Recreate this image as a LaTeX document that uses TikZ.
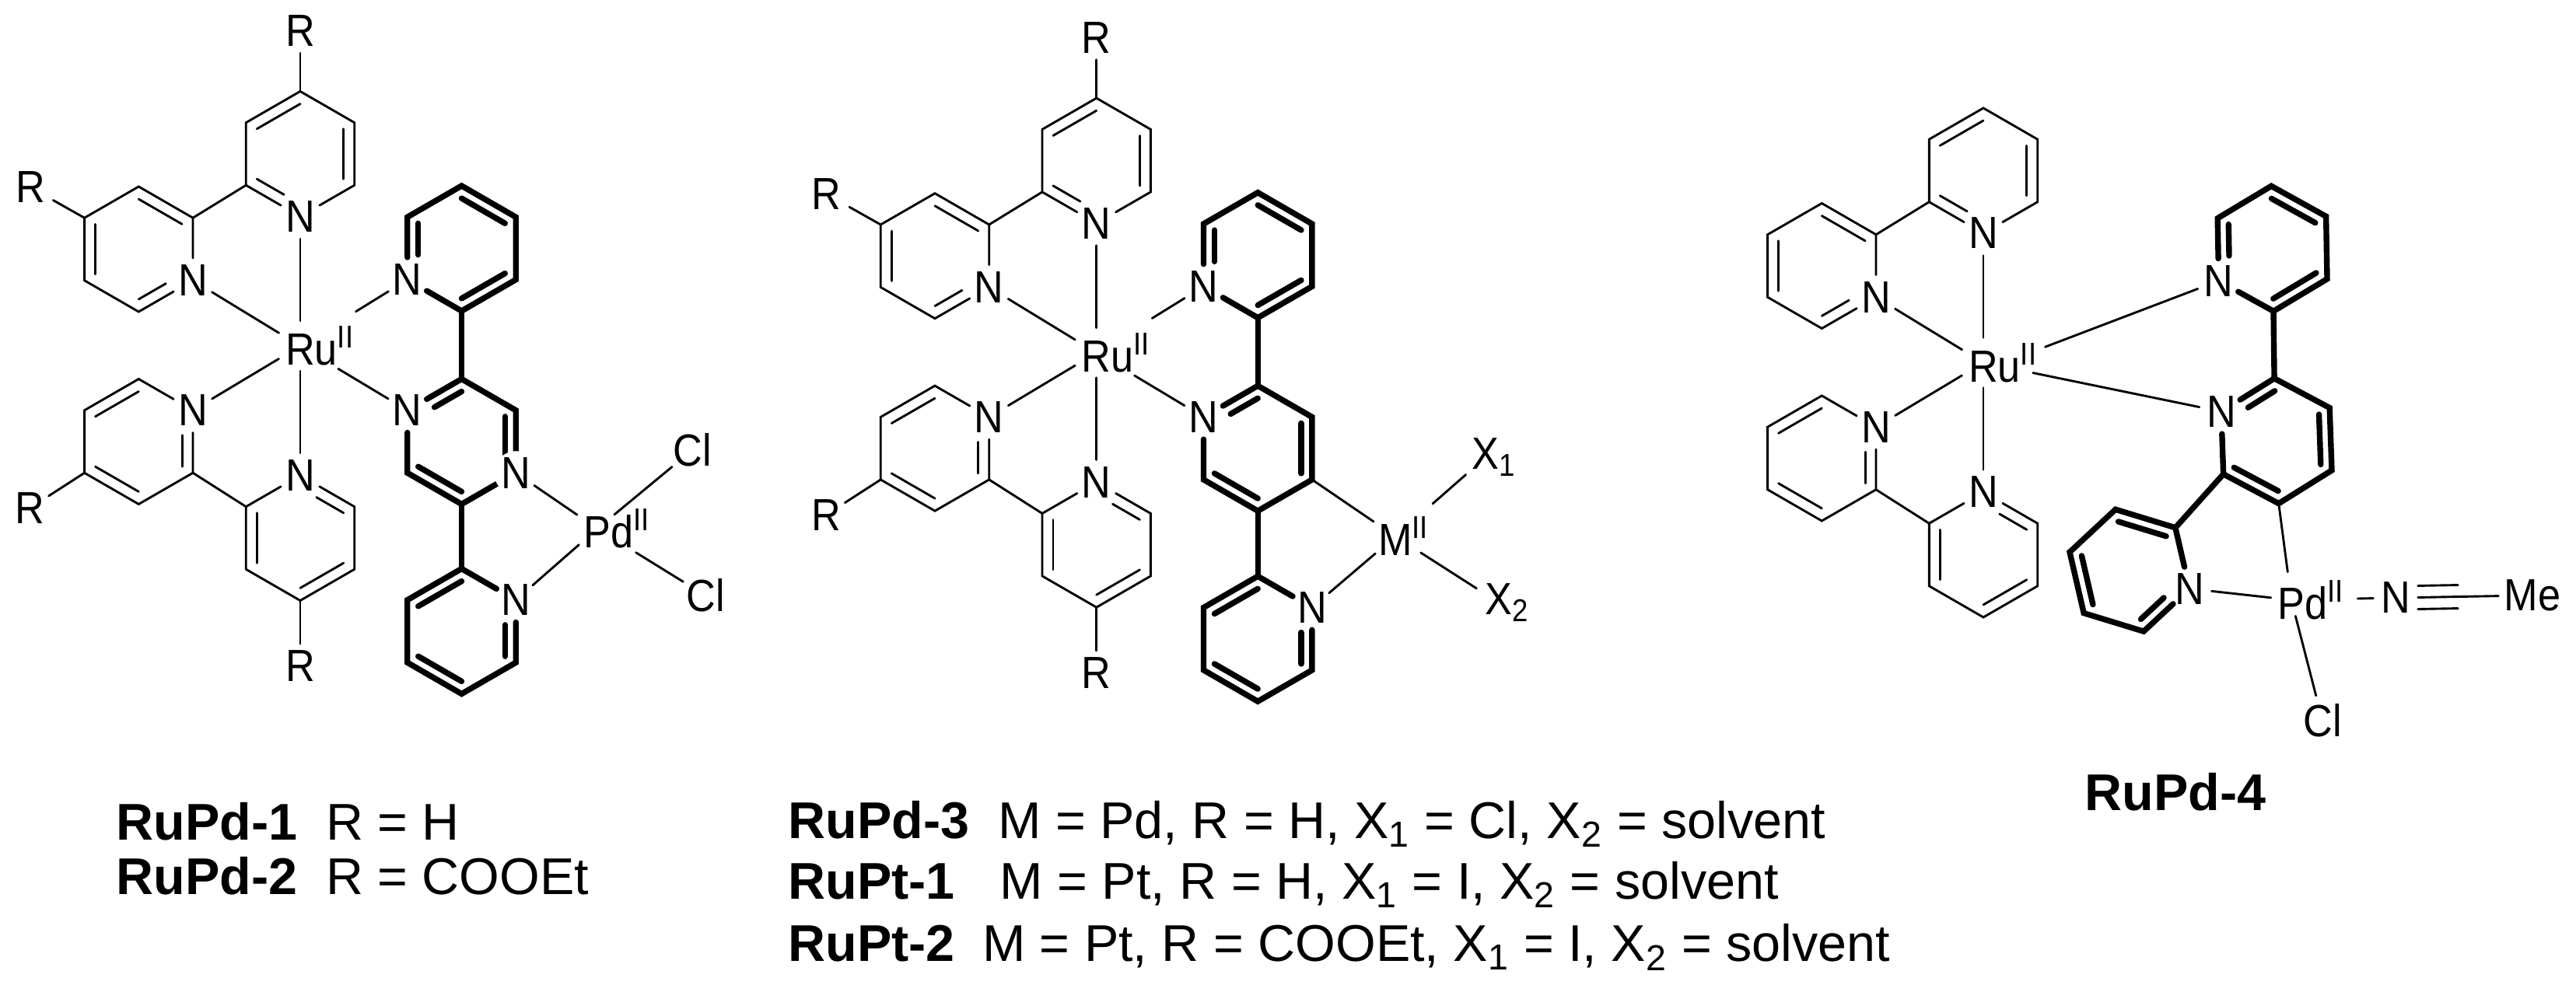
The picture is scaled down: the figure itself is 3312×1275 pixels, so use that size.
\documentclass[tikz,border=0pt]{standalone}
\usepackage{fontspec}
\setmainfont{Liberation Sans}
\newfontfamily\atomfam[FakeStretch=0.9]{Liberation Sans}
\usetikzlibrary{calc}
\tikzset{
	bond/.style={line width=0.82pt,line cap=round},
	thickbond/.style={line width=2.1pt,line cap=round},
	atom/.style={circle,inner sep=0pt,minimum size=0.56cm},
	metal/.style={atom,minimum size=0.6cm},
	halide/.style={atom,minimum size=0.66cm},
	namelabel/.style={anchor=base west,inner sep=0pt,font=\fontsize{18.9}{22}\selectfont}
}
\newcommand{\ox}{\textsuperscript{II}}
% ring: style, name, centre, angle of the N
\newcommand{\pyring}[4][bond]{
	\coordinate (#2c) at (#3);
	\path (#2c) ++(#4:80.5) node[atom] (#2n) {N};
	\foreach \k in {2,...,6}
		\path (#2c) ++({#4+60*(\k-1)}:80.5) coordinate (#2\k);
	\draw[#1] (#2n)--(#22)--(#23)--(#24)--(#25)--(#26)--(#2n);
	\draw[#1] ($(#22)!.2!(#2c)$)--($(#23)!.2!(#2c)$);
	\draw[#1] ($(#24)!.2!(#2c)$)--($(#25)!.2!(#2c)$);
	\draw[#1,shorten >=0.24cm] ($(#26)!.2!(#2c)$)--($(#2n)!.2!(#2c)$);
}
% Ru with the two thin bipyridines
\newcommand{\rubis}{
	\node[metal] (Ru) at (0,0) {R\rlap{u\ox}};
	\pyring{A}{0,247}{-90}
	\pyring{B}{-207.7,124.5}{-30}
	\pyring{C}{-207.7,-123}{30}
	\pyring{D}{0,-247}{90}
	\draw[bond] (A6)--(B2);
	\draw[bond] (C6)--(D2);
	\foreach \r in {A,B,C,D}
		\draw[bond] (\r n)--(Ru);
}
\newcommand{\rgroups}{
	\node[atom] (Ra) at (0,405.5) {R};
	\node[halide] (Rb) at (-347,204) {R};
	\node[atom] (Rc) at (-347.5,-208.5) {R};
	\node[atom] (Rd) at (0,-412) {R};
	\draw[bond] (A4)--(Ra);
	\draw[bond] (B4)--(Rb);
	\draw[bond] (C4)--(Rc);
	\draw[bond] (D4)--(Rd);
}
\begin{document}
\begin{tikzpicture}[x=0.01cm,y=0.01cm,font=\atomfam\fontsize{16.5}{18}\selectfont]
	\useasboundingbox (0,0) rectangle (3312,1275);
	% RuPd-1, RuPd-2
	\begin{scope}[shift={(386,830)},name prefix=p-]
		\rubis
		\rgroups
		\pyring[thickbond]{E}{207.5,125.5}{210}
		\pyring[thickbond]{F}{207.5,-123}{150}
		\pyring[thickbond]{G}{207.5,-367}{30}
		\node[atom,fill=white] (Fm) at (F4) {N};
		\draw[thickbond] (E2)--(F6);
		\draw[thickbond] (F3)--(G2);
		\draw[bond,shorten >=0.52cm] (En)--(Ru);
		\draw[bond,shorten >=0.25cm] (Fn)--(Ru);
		\node[metal] (Pd) at (382,-235) {P\rlap{d\ox}};
		\node[halide] (ClA) at (504,-134) {Cl};
		\node[halide] (ClB) at (521,-321) {Cl};
		\draw[bond] (Fm)--(Pd);
		\draw[bond] (Gn)--(Pd);
		\draw[bond,shorten <=-0.03cm] (Pd)--(ClA);
		\draw[bond,shorten <=0.27cm] (Pd)--(ClB);
	\end{scope}
	% RuPd-3, RuPt-1, RuPt-2
	\begin{scope}[shift={(1409.7,821.3)},name prefix=q-]
		\rubis
		\rgroups
		\pyring[thickbond]{E}{207.5,125.5}{210}
		\pyring[thickbond]{F}{207.5,-123}{150}
		\pyring[thickbond]{G}{207.5,-368}{30}
		\draw[thickbond] (E2)--(F6);
		\draw[thickbond] (F3)--(G2);
		\draw[bond,shorten >=0.52cm] (En)--(Ru);
		\draw[bond,shorten >=0.25cm] (Fn)--(Ru);
		\node[metal] (Mt) at (384.3,-236.3) {M\rlap{\ox}};
		\node[halide] (Xa) at (500.3,-134.6) {X\rlap{\textsubscript{1}}};
		\node[halide] (Xb) at (517,-321.3) {X\rlap{\textsubscript{2}}};
		\draw[bond] (F4)--(Mt);
		\draw[bond] (Gn)--(Mt);
		\draw[bond,shorten <=0.3cm] (Mt)--(Xa);
		\draw[bond,shorten <=0.05cm] (Mt)--(Xb);
	\end{scope}
	% RuPd-4
	\begin{scope}[shift={(2550,808.5)},name prefix=r-]
		\rubis
		\pyring[thickbond]{E}{371.6,146.7}{211}
		\pyring[thickbond]{F}{376.9,-100.7}{152}
		\pyring[thickbond]{G}{188,-267.2}{-17}
		\draw[thickbond] (E2)--(F6);
		\draw[thickbond] (F2)--(G2);
		\coordinate (RuE) at (0,-10);
		\draw[bond,shorten >=0.85cm] (En)--(RuE);
		\draw[bond,shorten >=0.33cm] (Fn)--(Ru);
		\node[atom,minimum size=0.5cm] (Pd) at (396,-305.2) {P\rlap{d\ox}};
		\node[atom] (Cl) at (436,-460.5) {Cl};
		\node[atom] (Nt) at (530,-302.5) {N};
		\node[atom,minimum size=0.86cm] (Me) at (706,-299.3) {Me};
		\draw[bond,shorten >=0.05cm] (F3)--(Pd);
		\draw[bond,shorten >=-0.05cm] (Gn)--(Pd);
		\draw[bond,shorten <=-0.1cm] (Pd)--(Cl);
		\draw[bond,shorten <=0.54cm] (Pd)--(Nt);
		\draw[bond] (Nt)--(Me);
		\draw[bond,shorten >=0.52cm,transform canvas={yshift=0.15cm}] (Nt)--(Me);
		\draw[bond,shorten >=0.52cm,transform canvas={yshift=-0.15cm}] (Nt)--(Me);
	\end{scope}
	% names
	\node[namelabel] (nA) at (149,195) {\textbf{RuPd-1}\hspace{10.5pt}R = H};
	\node[namelabel] (nB) at (149,125) {\textbf{RuPd-2}\hspace{10.5pt}R = COOEt};
	\node[namelabel] (nC) at (1013,197) {\textbf{RuPd-3}\hspace{10.5pt}M = Pd, R = H, X\textsubscript{1} = Cl, X\textsubscript{2} = solvent};
	\node[namelabel] (nD) at (1013,119) {\textbf{RuPt-1}\hspace{16.5pt}M = Pt, R = H, X\textsubscript{1} = I, X\textsubscript{2} = solvent};
	\node[namelabel] (nE) at (1013,38.3) {\textbf{RuPt-2}\hspace{10pt}M = Pt, R = COOEt, X\textsubscript{1} = I, X\textsubscript{2} = solvent};
	\node[namelabel] (nF) at (2680,233) {\textbf{RuPd-4}};
\end{tikzpicture}
\end{document}
